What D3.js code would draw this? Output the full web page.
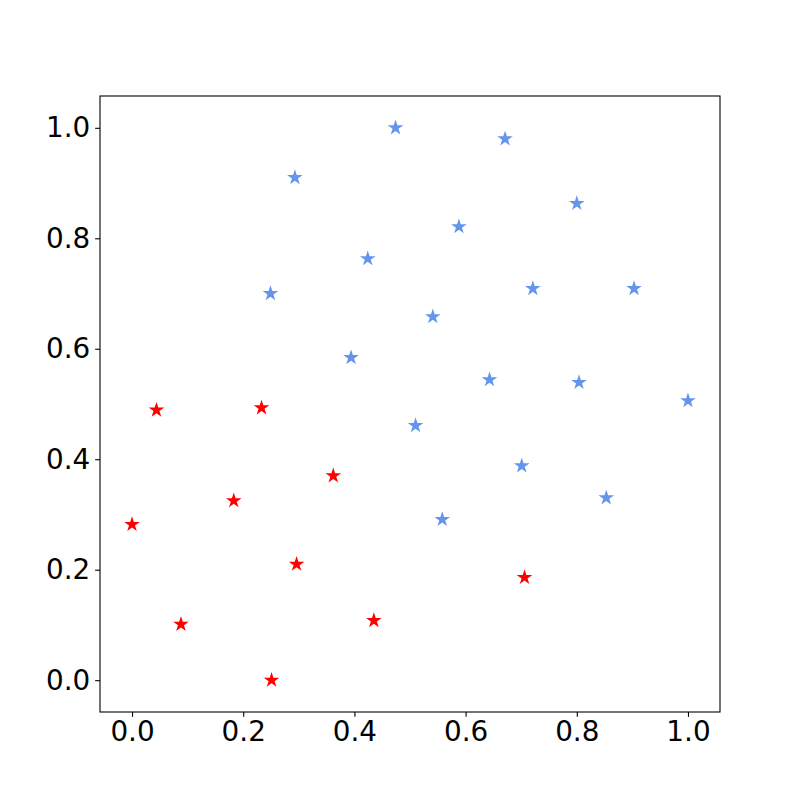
<!DOCTYPE html>
<html>
<head>
<meta charset="utf-8">
<script src="https://cdn.jsdelivr.net/npm/d3@7"></script>
<style>
  html, body { margin: 0; padding: 0; background: #fff; }
  svg { display: block; }
</style>
</head>
<body>
<svg id="chart" width="800" height="800"></svg>
<script>
// Data
const blueX = [0.474, 0.671, 0.293, 0.800, 0.588, 0.424, 0.249, 0.721, 0.903, 0.541, 0.394, 0.643, 0.804, 1.000, 0.510, 0.701, 0.853, 0.558];
const blueY = [1.000, 0.980, 0.910, 0.863, 0.821, 0.763, 0.700, 0.709, 0.709, 0.658, 0.584, 0.544, 0.539, 0.506, 0.461, 0.388, 0.330, 0.291];
const redX = [0.044, 0.233, 0.362, 0.183, 0.000, 0.296, 0.088, 0.435, 0.251, 0.706];
const redY = [0.489, 0.493, 0.370, 0.325, 0.282, 0.210, 0.101, 0.108, 0.000, 0.186];
const xTicks = [0.0, 0.2, 0.4, 0.6, 0.8, 1.0];
const yTicks = [0.0, 0.2, 0.4, 0.6, 0.8, 1.0];
const blueColor = "#6495ED";
const redColor = "#FF0000";

const svg = d3.select("#chart");
const L = 100, T = 96, R = 720, B = 712;

const x = d3.scaleLinear().domain([-0.0576, 1.0576]).range([L, R]);
const y = d3.scaleLinear().domain([-0.0576, 1.0576]).range([B, T]);

function starPath(r) {
  const inner = r * 0.381966;
  const pts = [];
  for (let i = 0; i < 10; i++) {
    const rad = i % 2 === 0 ? r : inner;
    const a = -Math.PI / 2 + i * Math.PI / 5;
    pts.push([rad * Math.cos(a), rad * Math.sin(a)]);
  }
  return "M" + pts.map(p => p[0].toFixed(2) + "," + p[1].toFixed(2)).join("L") + "Z";
}
const star = starPath(8.2);

const fontSize = "27.8px";
const font = "'DejaVu Sans', sans-serif";

// X axis
const xAxis = d3.axisBottom(x).tickValues(xTicks).tickFormat(d3.format(".1f"))
  .tickSizeInner(4.86).tickSizeOuter(0).tickPadding(4.86);
const gx = svg.append("g").attr("transform", `translate(0,${B})`).call(xAxis);
gx.select(".domain").remove();
gx.selectAll("line").attr("stroke", "#000").attr("stroke-width", 1.1);
gx.selectAll("text").attr("font-size", fontSize).attr("font-family", font).attr("fill", "#000");

// Y axis
const yAxis = d3.axisLeft(y).tickValues(yTicks).tickFormat(d3.format(".1f"))
  .tickSizeInner(4.86).tickSizeOuter(0).tickPadding(4.86);
const gy = svg.append("g").attr("transform", `translate(${L},0)`).call(yAxis);
gy.select(".domain").remove();
gy.selectAll("line").attr("stroke", "#000").attr("stroke-width", 1.1);
gy.selectAll("text").attr("font-size", fontSize).attr("font-family", font).attr("fill", "#000");

// Points
const blue = blueX.map((v, i) => ({x: v, y: blueY[i]}));
const red = redX.map((v, i) => ({x: v, y: redY[i]}));

svg.append("g").selectAll("path").data(blue).join("path")
  .attr("d", star)
  .attr("transform", d => `translate(${x(d.x)},${y(d.y)})`)
  .attr("fill", blueColor);

svg.append("g").selectAll("path").data(red).join("path")
  .attr("d", star)
  .attr("transform", d => `translate(${x(d.x)},${y(d.y)})`)
  .attr("fill", redColor);

// Frame
svg.append("rect").attr("x", L).attr("y", T).attr("width", R - L).attr("height", B - T)
  .attr("fill", "none").attr("stroke", "#000").attr("stroke-width", 1.1);
</script>
</body>
</html>
